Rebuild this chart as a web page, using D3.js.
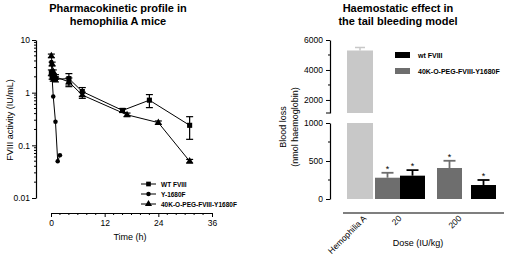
<!DOCTYPE html>
<html><head><meta charset="utf-8">
<script src="https://cdn.jsdelivr.net/npm/d3@7"></script>
<style>
body{margin:0;background:#fff;}
svg{font-family:"Liberation Sans",Arial,sans-serif;}
</style></head>
<body><svg id="c" width="520" height="266"></svg>
<script>
// ---- Left chart data ----
const timesWT = [0.08, 0.25, 0.5, 1, 4, 7, 16, 22, 31];
const valuesWT = [2.4, 2.0, 1.85, 1.8, 1.85, 1.05, 0.46, 0.72, 0.24];
const errWT = [0.3, 0.2, 0.2, 0.2, 0.45, 0.2, 0.04, 0.2, 0.11];
const timesY = [0.08, 0.25, 0.5, 1, 1.5, 2];
const valuesY = [3.8, 1.9, 0.85, 0.28, 0.05, 0.065];
const timesPEG = [0.08, 0.25, 0.5, 1, 4, 7, 17, 24, 31];
const valuesPEG = [5.0, 3.5, 2.5, 2.0, 1.6, 0.9, 0.38, 0.27, 0.05];
const errPEG = [0.4, 0.3, 0.2, 0.2, 0.3, 0.12, 0.03, 0.02, 0.004];
const legendLeft = ["WT FVIII", "Y-1680F", "40K-O-PEG-FVIII-Y1680F"];
const xTicksLeft = [0, 12, 24, 36];
const yTicksLeft = [10, 1, 0.1, 0.01];

// ---- Right chart data ----
const doseGroups = ["Hemophilia A", "20", "200"];
const hemoA = 5300, hemoAErr = 200;
const pegValues = [280, 408];
const pegErr = [65, 95];
const wtValues = [307, 184];
const wtErrR = [73, 66];
const legendRight = ["wt FVIII", "40K-O-PEG-FVIII-Y1680F"];
const yTicksUpper = [2000, 4000, 6000];
const yTicksLower = [0, 500, 1000];

const svg = d3.select("#c");

// ================= LEFT =================
const L = svg.append("g");
L.append("text").attr("x",118).attr("y",12).attr("text-anchor","middle").attr("font-size",11).attr("font-weight","bold").text("Pharmacokinetic profile in");
L.append("text").attr("x",118).attr("y",25).attr("text-anchor","middle").attr("font-size",11).attr("font-weight","bold").text("hemophilia A mice");

const xL = d3.scaleLinear().domain([0,36]).range([51,212]);
const yL = d3.scaleLog().domain([0.01,10]).range([198,40]);

// y axis
const yAx = d3.axisLeft(yL).tickValues(yTicksLeft).tickFormat(d=>String(d)).tickSize(4).tickSizeOuter(0);
const gy = L.append("g").attr("transform","translate(36,0)").call(yAx);
gy.selectAll("text").attr("font-size",8.5).attr("font-family","Liberation Sans, Arial").attr("dx",1);
gy.select(".domain").attr("stroke-width",1.2);
const minorY = [];
[0.01,0.1,1].forEach(b=>{for(let k=2;k<10;k++) minorY.push(b*k);});
gy.selectAll(".mn").data(minorY).enter().append("line").attr("x1",-2).attr("x2",0).attr("y1",d=>yL(d)).attr("y2",d=>yL(d)).attr("stroke","#000");

// x axis
const xAx = d3.axisBottom(xL).tickValues(xTicksLeft).tickSize(4).tickSizeOuter(0);
const gx = L.append("g").attr("transform","translate(0,213)").call(xAx);
gx.selectAll("text").attr("font-size",8.5).attr("font-family","Liberation Sans, Arial");
gx.select(".domain").attr("stroke-width",1.2);
gx.selectAll(".mnx").data(d3.range(2,36,2).filter(d=>d%12)).enter().append("line").attr("x1",d=>xL(d)).attr("x2",d=>xL(d)).attr("y1",0).attr("y2",2).attr("stroke","#000");

L.append("text").attr("x",130).attr("y",240).attr("text-anchor","middle").attr("font-size",9).text("Time (h)");
L.append("text").attr("transform","translate(13,120) rotate(-90)").attr("text-anchor","middle").attr("font-size",9).text("FVIII activity (IU/mL)");

const line = d3.line().x(d=>xL(d[0])).y(d=>yL(d[1]));
function series(times, vals, errs, shape){
  const pts = times.map((t,i)=>[t,vals[i],errs?errs[i]:0]);
  L.append("path").datum(pts).attr("d",line).attr("fill","none").attr("stroke","#000").attr("stroke-width",1);
  if(errs){
    pts.forEach(p=>{
      if(!p[2]) return;
      const x=xL(p[0]), y1=yL(p[1]+p[2]), y2=yL(Math.max(p[1]-p[2],0.011));
      L.append("line").attr("x1",x).attr("x2",x).attr("y1",y1).attr("y2",y2).attr("stroke","#000").attr("stroke-width",1.2);
      L.append("line").attr("x1",x-3.5).attr("x2",x+3.5).attr("y1",y1).attr("y2",y1).attr("stroke","#000").attr("stroke-width",1.2);
      L.append("line").attr("x1",x-3.5).attr("x2",x+3.5).attr("y1",y2).attr("y2",y2).attr("stroke","#000").attr("stroke-width",1.2);
    });
  }
  const sym = d3.symbol().type(shape).size(shape===d3.symbolCircle?16:shape===d3.symbolSquare?26:22);
  L.selectAll(null).data(pts).enter().append("path").attr("d",sym).attr("transform",d=>`translate(${xL(d[0])},${yL(d[1])})`).attr("fill","#000");
}
series(timesPEG, valuesPEG, errPEG, d3.symbolTriangle);
series(timesWT, valuesWT, errWT, d3.symbolSquare);
series(timesY, valuesY, null, d3.symbolCircle);

// left legend
const lshapes=[d3.symbolSquare,d3.symbolCircle,d3.symbolTriangle];
legendLeft.forEach((t,i)=>{
  const y=184+i*10;
  L.append("line").attr("x1",141).attr("x2",156).attr("y1",y).attr("y2",y).attr("stroke","#000");
  L.append("path").attr("d",d3.symbol().type(lshapes[i]).size(i===1?16:22)()).attr("transform",`translate(148.5,${y})`).attr("fill","#000");
  L.append("text").attr("x",161).attr("y",y+2.5).attr("font-size",6.5).attr("font-weight","bold").text(t);
});

// ================= RIGHT =================
const R = svg.append("g");
R.append("text").attr("x",398).attr("y",12).attr("text-anchor","middle").attr("font-size",11).attr("font-weight","bold").text("Haemostatic effect in");
R.append("text").attr("x",398).attr("y",25).attr("text-anchor","middle").attr("font-size",11).attr("font-weight","bold").text("the tail bleeding model");

const yU = d3.scaleLinear().domain([1130,6000]).range([113,40]);
const yLo = d3.scaleLinear().domain([0,1000]).range([199,123]);

const fmt = d3.format("d");
const gU = R.append("g").attr("transform","translate(330,0)").call(d3.axisLeft(yU).tickValues(yTicksUpper).tickFormat(fmt).tickSize(4).tickSizeOuter(0));
gU.selectAll(".mn").data([3000,5000]).enter().append("line").attr("x1",-2).attr("x2",0).attr("y1",d=>yU(d)).attr("y2",d=>yU(d)).attr("stroke","#000");
gU.append("line").attr("x1",-4).attr("x2",0).attr("y1",113).attr("y2",113).attr("stroke","#000");
const gLo = R.append("g").attr("transform","translate(330,0)").call(d3.axisLeft(yLo).tickValues(yTicksLower).tickFormat(fmt).tickSize(4).tickSizeOuter(0));
gLo.selectAll(".mn").data([250,750]).enter().append("line").attr("x1",-2).attr("x2",0).attr("y1",d=>yLo(d)).attr("y2",d=>yLo(d)).attr("stroke","#000");
[gU,gLo].forEach(g=>{g.selectAll("text").attr("font-size",8.5).attr("font-family","Liberation Sans, Arial");g.select(".domain").attr("stroke-width",1.2);});

R.append("text").attr("transform","translate(286,127) rotate(-90)").attr("text-anchor","middle").attr("font-size",9).text("Blood loss");
R.append("text").attr("transform","translate(298,127) rotate(-90)").attr("text-anchor","middle").attr("font-size",9).text("(nmol haemoglobin)");

// x axis line
R.append("line").attr("x1",343).attr("x2",504).attr("y1",213).attr("y2",213).attr("stroke","#000").attr("stroke-width",1.2);

const light="#c8c8c8", mid="#6e6e6e";
// Hemophilia A bar (broken)
const hx0=347, hw=26;
R.append("rect").attr("x",hx0).attr("width",hw).attr("y",yLo(1000)).attr("height",yLo(0)-yLo(1000)).attr("fill",light);
R.append("rect").attr("x",hx0).attr("width",hw).attr("y",yU(hemoA)).attr("height",113-yU(hemoA)).attr("fill",light);
R.append("line").attr("x1",hx0+hw/2).attr("x2",hx0+hw/2).attr("y1",yU(hemoA+hemoAErr)).attr("y2",yU(hemoA)).attr("stroke",light).attr("stroke-width",1.5);
R.append("line").attr("x1",hx0+hw/2-5).attr("x2",hx0+hw/2+5).attr("y1",yU(hemoA+hemoAErr)).attr("y2",yU(hemoA+hemoAErr)).attr("stroke",light).attr("stroke-width",1.5);

const barW=25;
const groupX=[375,437];
function bar(x,v,e,color){
  R.append("rect").attr("x",x).attr("width",barW).attr("y",yLo(v)).attr("height",yLo(0)-yLo(v)).attr("fill",color);
  const cx=x+barW/2, ty=yLo(v+e);
  R.append("line").attr("x1",cx).attr("x2",cx).attr("y1",ty).attr("y2",yLo(v)).attr("stroke",color).attr("stroke-width",1.8);
  R.append("line").attr("x1",cx-6).attr("x2",cx+6).attr("y1",ty).attr("y2",ty).attr("stroke",color).attr("stroke-width",1.8);
  R.append("text").attr("x",cx).attr("y",ty-1).attr("text-anchor","middle").attr("font-size",9).text("*");
}
[0,1].forEach(i=>{
  bar(groupX[i],pegValues[i],pegErr[i],mid);
  bar(groupX[i]+barW+(i?9:0),wtValues[i],wtErrR[i],"#000");
});

// x labels rotated
const labelPos=[{x:367,y:219},{x:402,y:219},{x:462,y:219}];
doseGroups.forEach((g,i)=>{
  R.append("text").attr("transform",`translate(${labelPos[i].x},${labelPos[i].y}) rotate(-45)`).attr("text-anchor","end").attr("font-size",8.5).text(g);
});
R.append("text").attr("x",418).attr("y",246).attr("text-anchor","middle").attr("font-size",9).text("Dose (IU/kg)");

// right legend
const lcol=["#000",mid];
legendRight.forEach((t,i)=>{
  const y=55+i*16;
  R.append("rect").attr("x",395).attr("y",y-3).attr("width",15).attr("height",6).attr("fill",lcol[i]);
  R.append("text").attr("x",418).attr("y",y+2.5).attr("font-size",7).attr("font-weight","bold").text(t);
});
</script></body></html>
